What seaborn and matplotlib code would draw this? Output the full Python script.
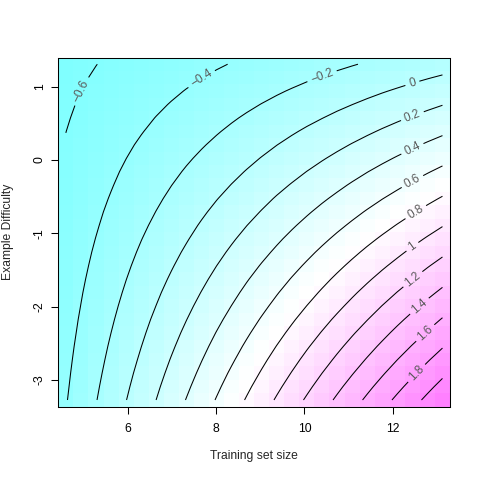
import numpy as np
import pandas as pd
import matplotlib
matplotlib.use('Agg')
import matplotlib.pyplot as plt
from matplotlib.colors import LinearSegmentedColormap
import seaborn as sns

# ================= data =================
# grid cell centres: training set size (columns) and example difficulty (rows)
size_grid = np.linspace(4.59, 13.13, 26)
difficulty_grid = np.linspace(-3.273, 1.307, 26)

# surface, one row per difficulty level, bottom row first
surface = [
    [-0.411, -0.309, -0.207, -0.105, -0.003, 0.099, 0.201, 0.304, 0.406, 0.508, 0.610, 0.712, 0.814, 0.916, 1.019, 1.121, 1.223, 1.325, 1.427, 1.529, 1.631, 1.734, 1.836, 1.938, 2.040, 2.142],
    [-0.421, -0.322, -0.223, -0.124, -0.025, 0.074, 0.173, 0.272, 0.371, 0.470, 0.569, 0.668, 0.767, 0.866, 0.965, 1.064, 1.163, 1.262, 1.361, 1.460, 1.559, 1.658, 1.757, 1.856, 1.955, 2.054],
    [-0.430, -0.335, -0.239, -0.143, -0.047, 0.049, 0.145, 0.240, 0.336, 0.432, 0.528, 0.624, 0.719, 0.815, 0.911, 1.007, 1.103, 1.199, 1.294, 1.390, 1.486, 1.582, 1.678, 1.773, 1.869, 1.965],
    [-0.440, -0.347, -0.255, -0.162, -0.069, 0.023, 0.116, 0.209, 0.301, 0.394, 0.487, 0.579, 0.672, 0.765, 0.857, 0.950, 1.043, 1.135, 1.228, 1.321, 1.413, 1.506, 1.599, 1.691, 1.784, 1.877],
    [-0.449, -0.360, -0.270, -0.181, -0.091, -0.002, 0.088, 0.177, 0.267, 0.356, 0.446, 0.535, 0.625, 0.714, 0.804, 0.893, 0.983, 1.072, 1.162, 1.251, 1.341, 1.430, 1.520, 1.609, 1.699, 1.788],
    [-0.459, -0.373, -0.286, -0.200, -0.114, -0.027, 0.059, 0.146, 0.232, 0.318, 0.405, 0.491, 0.577, 0.664, 0.750, 0.836, 0.923, 1.009, 1.095, 1.182, 1.268, 1.354, 1.441, 1.527, 1.613, 1.700],
    [-0.468, -0.385, -0.302, -0.219, -0.136, -0.052, 0.031, 0.114, 0.197, 0.280, 0.363, 0.447, 0.530, 0.613, 0.696, 0.779, 0.863, 0.946, 1.029, 1.112, 1.195, 1.278, 1.362, 1.445, 1.528, 1.611],
    [-0.478, -0.398, -0.318, -0.238, -0.158, -0.078, 0.002, 0.082, 0.162, 0.242, 0.322, 0.402, 0.482, 0.562, 0.642, 0.722, 0.802, 0.882, 0.962, 1.042, 1.123, 1.203, 1.283, 1.363, 1.443, 1.523],
    [-0.487, -0.410, -0.334, -0.257, -0.180, -0.103, -0.026, 0.051, 0.128, 0.204, 0.281, 0.358, 0.435, 0.512, 0.589, 0.666, 0.742, 0.819, 0.896, 0.973, 1.050, 1.127, 1.204, 1.280, 1.357, 1.434],
    [-0.497, -0.423, -0.349, -0.276, -0.202, -0.128, -0.055, 0.019, 0.093, 0.166, 0.240, 0.314, 0.388, 0.461, 0.535, 0.609, 0.682, 0.756, 0.830, 0.903, 0.977, 1.051, 1.125, 1.198, 1.272, 1.346],
    [-0.506, -0.436, -0.365, -0.295, -0.224, -0.154, -0.083, -0.013, 0.058, 0.129, 0.199, 0.270, 0.340, 0.411, 0.481, 0.552, 0.622, 0.693, 0.763, 0.834, 0.904, 0.975, 1.045, 1.116, 1.187, 1.257],
    [-0.516, -0.448, -0.381, -0.314, -0.246, -0.179, -0.112, -0.044, 0.023, 0.091, 0.158, 0.225, 0.293, 0.360, 0.427, 0.495, 0.562, 0.630, 0.697, 0.764, 0.832, 0.899, 0.966, 1.034, 1.101, 1.169],
    [-0.525, -0.461, -0.397, -0.333, -0.268, -0.204, -0.140, -0.076, -0.012, 0.053, 0.117, 0.181, 0.245, 0.310, 0.374, 0.438, 0.502, 0.566, 0.631, 0.695, 0.759, 0.823, 0.887, 0.952, 1.016, 1.080],
    [-0.535, -0.474, -0.413, -0.352, -0.291, -0.230, -0.168, -0.107, -0.046, 0.015, 0.076, 0.137, 0.198, 0.259, 0.320, 0.381, 0.442, 0.503, 0.564, 0.625, 0.686, 0.747, 0.808, 0.870, 0.931, 0.992],
    [-0.544, -0.486, -0.428, -0.371, -0.313, -0.255, -0.197, -0.139, -0.081, -0.023, 0.035, 0.093, 0.150, 0.208, 0.266, 0.324, 0.382, 0.440, 0.498, 0.556, 0.614, 0.672, 0.729, 0.787, 0.845, 0.903],
    [-0.554, -0.499, -0.444, -0.390, -0.335, -0.280, -0.225, -0.171, -0.116, -0.061, -0.006, 0.048, 0.103, 0.158, 0.213, 0.267, 0.322, 0.377, 0.431, 0.486, 0.541, 0.596, 0.650, 0.705, 0.760, 0.815],
    [-0.563, -0.512, -0.460, -0.409, -0.357, -0.305, -0.254, -0.202, -0.151, -0.099, -0.048, 0.004, 0.056, 0.107, 0.159, 0.210, 0.262, 0.314, 0.365, 0.417, 0.468, 0.520, 0.571, 0.623, 0.675, 0.726],
    [-0.573, -0.524, -0.476, -0.427, -0.379, -0.331, -0.282, -0.234, -0.185, -0.137, -0.089, -0.040, 0.008, 0.057, 0.105, 0.153, 0.202, 0.250, 0.299, 0.347, 0.396, 0.444, 0.492, 0.541, 0.589, 0.638],
    [-0.582, -0.537, -0.492, -0.446, -0.401, -0.356, -0.311, -0.265, -0.220, -0.175, -0.130, -0.084, -0.039, 0.006, 0.051, 0.097, 0.142, 0.187, 0.232, 0.278, 0.323, 0.368, 0.413, 0.459, 0.504, 0.549],
    [-0.592, -0.550, -0.508, -0.465, -0.423, -0.381, -0.339, -0.297, -0.255, -0.213, -0.171, -0.129, -0.087, -0.045, -0.002, 0.040, 0.082, 0.124, 0.166, 0.208, 0.250, 0.292, 0.334, 0.376, 0.419, 0.461],
    [-0.601, -0.562, -0.523, -0.484, -0.445, -0.407, -0.368, -0.329, -0.290, -0.251, -0.212, -0.173, -0.134, -0.095, -0.056, -0.017, 0.022, 0.061, 0.100, 0.139, 0.177, 0.216, 0.255, 0.294, 0.333, 0.372],
    [-0.611, -0.575, -0.539, -0.503, -0.468, -0.432, -0.396, -0.360, -0.325, -0.289, -0.253, -0.217, -0.181, -0.146, -0.110, -0.074, -0.038, -0.003, 0.033, 0.069, 0.105, 0.141, 0.176, 0.212, 0.248, 0.284],
    [-0.620, -0.588, -0.555, -0.522, -0.490, -0.457, -0.425, -0.392, -0.359, -0.327, -0.294, -0.261, -0.229, -0.196, -0.164, -0.131, -0.098, -0.066, -0.033, -0.001, 0.032, 0.065, 0.097, 0.130, 0.162, 0.195],
    [-0.630, -0.600, -0.571, -0.541, -0.512, -0.482, -0.453, -0.424, -0.394, -0.365, -0.335, -0.306, -0.276, -0.247, -0.217, -0.188, -0.158, -0.129, -0.100, -0.070, -0.041, -0.011, 0.018, 0.048, 0.077, 0.107],
    [-0.639, -0.613, -0.587, -0.560, -0.534, -0.508, -0.481, -0.455, -0.429, -0.403, -0.376, -0.350, -0.324, -0.297, -0.271, -0.245, -0.219, -0.192, -0.166, -0.140, -0.113, -0.087, -0.061, -0.034, -0.008, 0.018],
    [-0.649, -0.626, -0.602, -0.579, -0.556, -0.533, -0.510, -0.487, -0.464, -0.440, -0.417, -0.394, -0.371, -0.348, -0.325, -0.302, -0.279, -0.255, -0.232, -0.209, -0.186, -0.163, -0.140, -0.117, -0.094, -0.070],
]

contour_levels = [-0.6, -0.4, -0.2, 0.0, 0.2, 0.4, 0.6, 0.8, 1.0, 1.2, 1.4, 1.6, 1.8, 2.0]
x_ticks = [6, 8, 10, 12]
y_ticks = [-3, -2, -1, 0, 1]
y_tick_labels = ['-3', '-2', '-1', '0', '1']

# ================= style =================
sns.set_style('white')
plt.rcParams['font.family'] = ['Liberation Sans', 'DejaVu Sans']
plt.rcParams['contour.negative_linestyle'] = 'solid'

df = pd.DataFrame(surface, index=difficulty_grid, columns=size_grid)

# R cm.colors: cyan -> white -> magenta
cm_colors = LinearSegmentedColormap.from_list('cm_colors', ['#80FFFF', '#FFFFFF', '#FF80FF'])

fig = plt.figure(figsize=(4.8, 4.8), dpi=100)
ax = fig.add_axes([0.1215, 0.1527, 0.816, 0.7275])

sns.heatmap(df, cmap=cm_colors, cbar=False, ax=ax,
            xticklabels=False, yticklabels=False, linewidths=0)
ax.invert_yaxis()  # first row (lowest difficulty) at the bottom

# contour lines through the cell centres
cx = np.arange(len(size_grid)) + 0.5
cy = np.arange(len(difficulty_grid)) + 0.5
cs = ax.contour(cx, cy, df.values, levels=contour_levels, colors='black',
                linewidths=0.75, linestyles='solid')

# label each line a little before its top/right end (as R's contour does)
label_points = []
for segs in cs.allsegs:
    for seg in segs:
        if len(seg) < 2:
            continue
        pts = ax.transData.transform(seg)
        if pts[0].sum() > pts[-1].sum():
            pts = pts[::-1]
            seg = seg[::-1]
        step = np.hypot(*np.diff(pts, axis=0).T)
        if step.sum() < 60:
            continue
        to_end = np.concatenate([np.cumsum(step[::-1])[::-1], [0]])
        k = np.argmin(np.abs(to_end - 30))
        label_points.append(tuple(seg[k]))


def fmt_level(v):
    return f'{v:g}'.replace('-', '\u2212')


ax.clabel(cs, manual=label_points, inline=True, inline_spacing=4,
          fmt=fmt_level, fontsize=8.5, colors='#5a5a5a')

# ================= axes =================
ax.set_xticks((np.array(x_ticks) - size_grid[0]) / (size_grid[1] - size_grid[0]) + 0.5)
ax.set_xticklabels([str(t) for t in x_ticks], rotation=0)
ax.set_yticks((np.array(y_ticks) - difficulty_grid[0]) / (difficulty_grid[1] - difficulty_grid[0]) + 0.5)
ax.set_yticklabels(y_tick_labels, rotation=90, va='center')

ax.tick_params(axis='both', direction='out', length=5, width=0.75, color='black',
               labelsize=8.7, labelcolor='black', bottom=True, left=True, top=False, right=False)
ax.tick_params(axis='x', pad=6.5)
ax.tick_params(axis='y', pad=4)

for spine in ax.spines.values():
    spine.set_visible(True)
    spine.set_color('black')
    spine.set_linewidth(0.75)

ax.set_xlabel('Training set size', fontsize=8.7)
ax.set_ylabel('Example Difficulty', fontsize=8.7)
ax.xaxis.set_label_coords(0.5, -0.125)
ax.yaxis.set_label_coords(-0.113, 0.5)

plt.savefig('out.png', dpi=100)
